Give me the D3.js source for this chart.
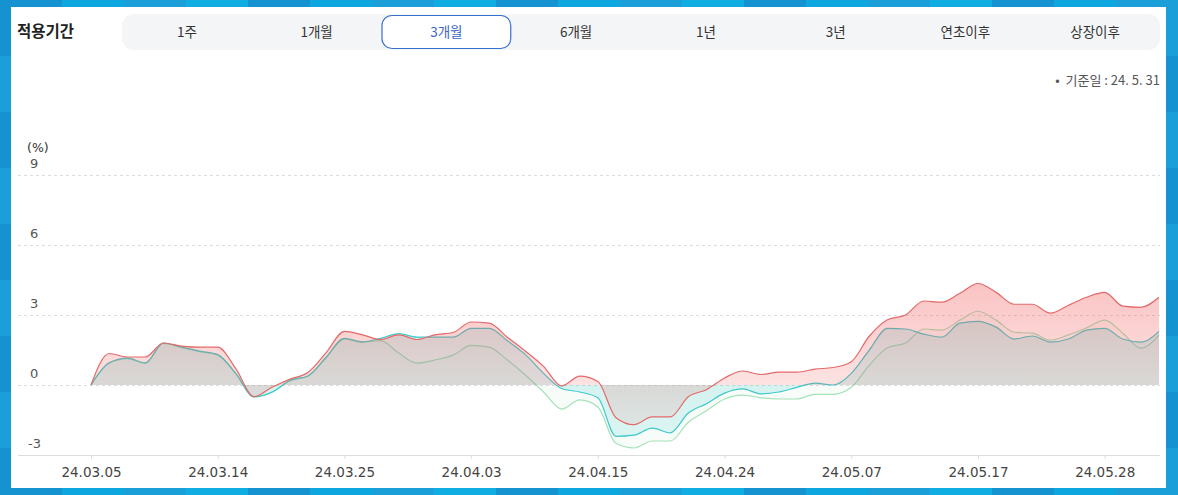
<!DOCTYPE html>
<html>
<head>
<meta charset="utf-8">
<script src="https://cdn.jsdelivr.net/npm/d3@7"></script>
<style>
  html, body { margin: 0; padding: 0; background: #169fd8; }
  svg { display: block; }
  text { font-family: "DejaVu Sans", "Noto Sans", sans-serif; }
  .kr { font-family: "Noto Sans CJK KR", "Noto Sans", sans-serif; }
</style>
</head>
<body>
<svg id="chart" width="1178" height="495"></svg>
<script>
// ---- data ----
const dates = [
  "24.03.05","24.03.06","24.03.07","24.03.08","24.03.11","24.03.12","24.03.13","24.03.14",
  "24.03.15","24.03.18","24.03.19","24.03.20","24.03.21","24.03.22","24.03.25","24.03.26",
  "24.03.27","24.03.28","24.03.29","24.04.01","24.04.02","24.04.03","24.04.04","24.04.05",
  "24.04.08","24.04.09","24.04.11","24.04.12","24.04.15","24.04.16","24.04.17","24.04.18",
  "24.04.19","24.04.22","24.04.23","24.04.24","24.04.25","24.04.26","24.04.29","24.04.30",
  "24.05.02","24.05.03","24.05.07","24.05.08","24.05.09","24.05.10","24.05.13","24.05.14",
  "24.05.16","24.05.17","24.05.20","24.05.21","24.05.22","24.05.23","24.05.24","24.05.27",
  "24.05.28","24.05.29","24.05.30","24.05.31"
];
const tickLabels = ["24.03.05","24.03.14","24.03.25","24.04.03","24.04.15","24.04.24","24.05.07","24.05.17","24.05.28"];
const yTicks = [-3, 0, 3, 6, 9];

const seriesRed = [
  0, 1.35, 1.2, 1.2, 1.8, 1.67, 1.62, 1.62, 0.7, -0.5,
  -0.1, 0.25, 0.55, 1.4, 2.3, 2.15, 1.95, 2.15, 1.95, 2.15,
  2.25, 2.7, 2.65, 2.05, 1.45, 0.8, -0.04, 0.38, 0.15, -1.4,
  -1.7, -1.37, -1.37, -0.5, -0.2, 0.3, 0.6, 0.45, 0.55, 0.55,
  0.68, 0.75, 1.0, 2.1, 2.8, 3.0, 3.6, 3.55, 3.93, 4.35,
  3.97, 3.46, 3.46, 3.08, 3.42, 3.76, 3.97, 3.38, 3.33, 3.76
];
const seriesTeal = [
  0, 0.95, 1.15, 0.95, 1.8, 1.62, 1.45, 1.3, 0.5, -0.5,
  -0.3, 0.2, 0.4, 1.2, 2.0, 1.85, 2.0, 2.2, 2.05, 2.05,
  2.05, 2.43, 2.43, 1.9, 1.3, 0.5, -0.15, -0.3, -0.55, -2.2,
  -2.15, -1.85, -2.05, -1.2, -0.8, -0.35, -0.17, -0.38, -0.3, -0.1,
  0.08, 0, 0.5, 1.5, 2.43, 2.4, 2.18, 2.05, 2.65, 2.73,
  2.48, 1.97, 2.1, 1.84, 1.97, 2.35, 2.43, 1.97, 1.84, 2.3
];
const seriesGreen = [
  0, 0.93, 1.13, 0.93, 1.78, 1.6, 1.43, 1.28, 0.48, -0.52,
  -0.32, 0.18, 0.38, 1.18, 1.98, 1.83, 1.9, 1.37, 0.94, 1.07,
  1.28, 1.7, 1.62, 1.07, 0.43, -0.3, -1.03, -0.64, -0.94, -2.5,
  -2.7, -2.4, -2.4, -1.6, -1.1, -0.6, -0.43, -0.55, -0.6, -0.6,
  -0.4, -0.4, -0.1, 0.85, 1.6, 1.8, 2.4, 2.35, 2.78, 3.16,
  2.78, 2.26, 2.22, 1.92, 2.15, 2.45, 2.78, 2.22, 1.58, 2.14
];
const tabs = ["1주","1개월","3개월","6개월","1년","3년","연초이후","상장이후"];
const selectedTab = "3개월";

// ---- drawing ----
const svg = d3.select("#chart");
const W = 1178, H = 495;

// background mosaic (decorative frame)
const bgColors = ["#1592d0", "#10ade3", "#1a9fd9", "#0ea6df"];
const tileW = 62, tileH = 56;
const bg = svg.append("g");
for (let i = 0; i * tileW < W; i++) {
  for (let j = 0; j * tileH < H; j++) {
    bg.append("rect").attr("x", i * tileW).attr("y", j * tileH)
      .attr("width", tileW).attr("height", tileH)
      .attr("fill", bgColors[(i * 3 + j * 2) % bgColors.length]);
  }
}
// white panel
svg.append("rect").attr("x", 11).attr("y", 7).attr("width", 1155).attr("height", 481)
  .attr("fill", "#ffffff");

// header
svg.append("text").attr("class", "kr").attr("x", 17).attr("y", 37)
  .attr("font-size", 15.5).attr("font-weight", 700).attr("fill", "#222").text("적용기간");

const tabX = d3.scaleBand().domain(tabs).range([122, 1160]);
svg.append("rect").attr("x", 122).attr("y", 14).attr("width", 1038).attr("height", 36)
  .attr("rx", 12).attr("fill", "#f4f5f7");
svg.append("rect").attr("x", tabX(selectedTab) + 0.5).attr("y", 15.5)
  .attr("width", tabX.bandwidth() - 1).attr("height", 33).attr("rx", 10)
  .attr("fill", "#fff").attr("stroke", "#3a6fd2").attr("stroke-width", 1.2);
svg.append("g").selectAll("text").data(tabs).join("text")
  .attr("class", "kr")
  .attr("x", d => tabX(d) + tabX.bandwidth() / 2).attr("y", 36.5)
  .attr("text-anchor", "middle").attr("font-size", 13.5)
  .attr("fill", d => d === selectedTab ? "#3a66c8" : "#333")
  .text(d => d);

svg.append("text").attr("class", "kr").attr("x", 1160).attr("y", 85)
  .attr("text-anchor", "end").attr("font-size", 13).attr("fill", "#555")
  .attr("xml:space", "preserve")
  .text("•  기준일 : 24. 5. 31");

// scales
const x = d3.scalePoint().domain(dates).range([91, 1159]);
const y = d3.scaleLinear().domain([-3, 9]).range([455, 175]);

// gridlines & y labels
const grid = svg.append("g");
grid.selectAll("line").data(yTicks.filter(t => t !== -3)).join("line")
  .attr("x1", 18).attr("x2", 1160).attr("y1", d => y(d) + 0.5).attr("y2", d => y(d) + 0.5)
  .attr("stroke", "#dcdcdc").attr("stroke-dasharray", "3,3");
grid.selectAll("text").data(yTicks).join("text")
  .attr("x", d => d < 0 ? 28 : 30).attr("y", d => y(d) - 7)
  .attr("font-size", 13).attr("fill", "#555")
  .text(d => d);
svg.append("text").attr("x", 27).attr("y", 152).attr("font-size", 12.5).attr("fill", "#333").text("(%)");

// x axis
const xAxis = d3.axisBottom(x).tickValues(tickLabels).tickSize(4).tickPadding(8);
const gx = svg.append("g").attr("transform", `translate(0,${y(-3)})`).call(xAxis);
gx.select(".domain").remove();
gx.insert("line", ":first-child").attr("x1", 18).attr("x2", 1160).attr("y1", 0.5).attr("y2", 0.5)
  .attr("stroke", "#dddddd");
gx.selectAll(".tick line").attr("stroke", "#dddddd");
gx.selectAll(".tick text").attr("font-size", 13.5).attr("fill", "#444")
  .attr("font-family", "'DejaVu Sans', sans-serif");

// gradients
const defs = svg.append("defs");
function grad(id, color, aTop, aBot) {
  const g = defs.append("linearGradient").attr("id", id)
    .attr("gradientUnits", "userSpaceOnUse")
    .attr("x1", 0).attr("x2", 0).attr("y1", y(4.5)).attr("y2", y(-3));
  g.append("stop").attr("offset", "0%").attr("stop-color", color).attr("stop-opacity", aTop);
  g.append("stop").attr("offset", "100%").attr("stop-color", color).attr("stop-opacity", aBot);
}
grad("gGreen", "#8fd8a8", 0.07, 0.07);
grad("gTeal", "#2ec4c6", 0.24, 0.13);
grad("gRed", "#f25a5a", 0.37, 0.04);

const series = [
  { values: seriesGreen, line: "#a3e2b9", fill: "url(#gGreen)" },
  { values: seriesTeal, line: "#3ec8cb", fill: "url(#gTeal)" },
  { values: seriesRed, line: "#e36a6a", fill: "url(#gRed)" }
];
const area = d3.area().x((d, i) => x(dates[i])).y0(y(0)).y1(d => y(d)).curve(d3.curveMonotoneX);
const line = d3.line().x((d, i) => x(dates[i])).y(d => y(d)).curve(d3.curveMonotoneX);

const plot = svg.append("g");
series.forEach(s => {
  plot.append("path").datum(s.values).attr("d", area).attr("fill", s.fill);
  plot.append("path").datum(s.values).attr("d", line).attr("fill", "none")
    .attr("stroke", s.line).attr("stroke-width", 1.2);
});
</script>
</body>
</html>
